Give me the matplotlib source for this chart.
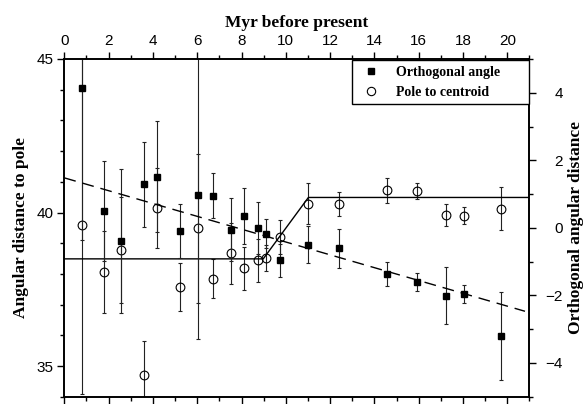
import matplotlib.pyplot as plt
import matplotlib.ticker as mticker
from matplotlib.lines import Line2D

# ages of the 20 samples (Myr before present)
age = [0.78, 1.79, 2.57, 3.58, 4.17, 5.22, 6.03, 6.71, 7.52, 8.09,
       8.75, 9.10, 9.76, 11.02, 12.39, 14.57, 15.94, 17.22, 18.03, 19.70]

# pole to centroid, left axis
pole = [39.60, 38.07, 38.77, 34.71, 40.14, 37.57, 39.49, 37.84, 38.67, 38.18,
        38.44, 38.51, 39.19, 40.29, 40.28, 40.72, 40.70, 39.92, 39.89, 40.13]
pole_err = [5.5, 1.34, 1.72, 1.12, 1.31, 0.77, 2.43, 0.63, 1.00, 0.71,
            0.71, 0.42, 0.55, 0.68, 0.40, 0.41, 0.27, 0.36, 0.28, 0.71]

# orthogonal angle, right axis
ortho = [4.14, 0.50, -0.39, 1.29, 1.51, -0.10, 0.98, 0.95, -0.06, 0.36,
         0.00, -0.18, -0.96, -0.50, -0.60, -1.36, -1.60, -2.01, -1.96, -3.20]
ortho_err = [4.5, 1.49, 2.12, 1.26, 1.64, 0.80, 4.28, 0.66, 0.93, 0.83,
             0.77, 0.43, 0.49, 0.55, 0.58, 0.35, 0.26, 0.85, 0.27, 1.30]

# fitted models
step_x = [0, 8.98, 11.02, 21]
step_y = [38.49, 38.49, 40.49, 40.49]
trend_x = [0, 20.8]
trend_y = [1.48, -2.47]

serif = 'Liberation Serif'
sans = 'Liberation Sans'

fig = plt.figure(figsize=(5.85, 4.04), dpi=100)
ax = fig.add_axes([0.110, 0.018, 0.795, 0.836])
ax2 = ax.twinx()

ax.errorbar(age, pole, yerr=pole_err, fmt='o', mfc='none', mec='k', ms=6.3,
            mew=0.8, ecolor='#222222', elinewidth=0.8, capsize=1.2, capthick=0.8)
ax.plot(step_x, step_y, color='k', lw=1.0)

ax2.errorbar(age, ortho, yerr=ortho_err, fmt='s', color='k', ms=4.2,
             ecolor='#222222', elinewidth=0.8, capsize=1.2, capthick=0.8)
ax2.plot(trend_x, trend_y, color='k', lw=1.0, ls=(0, (8.5, 5)))

ax.set_xlim(0, 21)
ax.set_ylim(34, 45)
ax2.set_ylim(-5, 5)

# x axis labelled on top, ticks on both sides
ax.xaxis.set_label_position('top')
ax.xaxis.set_major_locator(mticker.MultipleLocator(2))
ax.xaxis.set_minor_locator(mticker.MultipleLocator(1))
ax.tick_params(axis='x', which='both', top=True, bottom=True,
               labeltop=True, labelbottom=False, direction='out')
ax.yaxis.set_major_locator(mticker.MultipleLocator(5))
ax.yaxis.set_minor_locator(mticker.MultipleLocator(1))
ax2.yaxis.set_major_locator(mticker.MultipleLocator(2))
ax2.yaxis.set_minor_locator(mticker.MultipleLocator(1))

for a in (ax, ax2):
    a.tick_params(which='major', length=5, width=1.0, direction='out',
                  labelsize=11, pad=3)
    a.tick_params(which='minor', length=3, width=1.0, direction='out')
    for s in a.spines.values():
        s.set_linewidth(1.2)
    for lab in a.get_xticklabels() + a.get_yticklabels():
        lab.set_family(sans)

ax2.tick_params(axis='y', which='major', pad=19)
for lab in ax2.get_yticklabels():
    lab.set_ha('right')

ax.set_xlabel('Myr before present', family=serif, fontweight='bold',
              fontsize=12.5, labelpad=5)
ax.set_ylabel('Angular distance to pole', family=serif, fontweight='bold',
              fontsize=12.5, labelpad=5)
ax2.set_ylabel('Orthogonal angular distance', family=serif,
               fontweight='bold', fontsize=12.5, labelpad=4)

handles = [Line2D([], [], marker='s', ls='none', color='k', ms=4),
           Line2D([], [], marker='o', ls='none', mfc='none', mec='k', ms=6, mew=0.8)]
leg = ax2.legend(handles, ['Orthogonal angle', 'Pole to centroid'],
                 loc='lower left', bbox_to_anchor=(0.618, 0.866, 0.382, 0.134),
                 mode='expand', borderaxespad=0, fancybox=False, framealpha=1,
                 edgecolor='k', prop={'family': serif, 'weight': 'bold', 'size': 10})
leg.get_frame().set_linewidth(1.0)

fig.savefig('out.png', dpi=100)
